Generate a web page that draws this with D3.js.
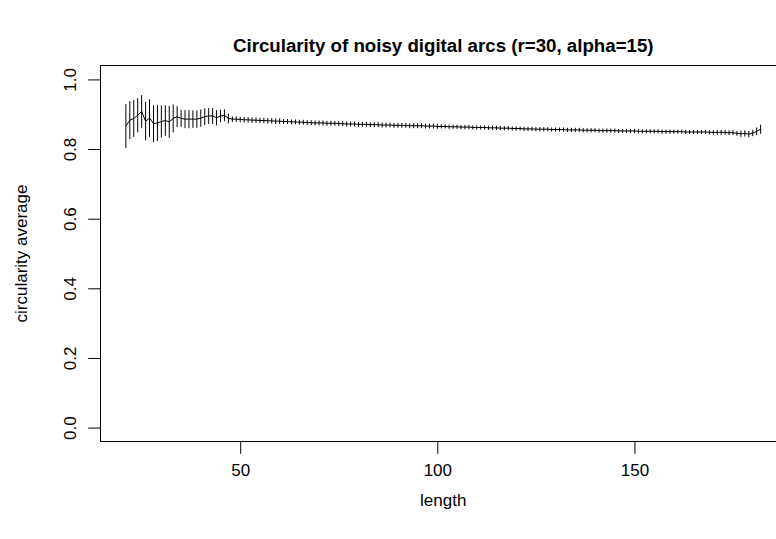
<!DOCTYPE html>
<html>
<head>
<meta charset="utf-8">
<script src="https://cdn.jsdelivr.net/npm/d3@7"></script>
<style>
  body { margin: 0; background: #fff; }
  svg { display: block; font-family: "Liberation Sans", Arial, Helvetica, sans-serif; }
  .axis text { font-size: 17px; fill: #000; }
  .axis line { stroke: #000; }
</style>
</head>
<body>
<svg id="chart"></svg>
<script>
// arc length of the noisy digital arc
const lengths = [
  21, 22, 23, 24, 25, 26, 27, 28, 29, 30,
  31, 32, 33, 34, 35, 36, 37, 38, 39, 40,
  41, 42, 43, 44, 45, 46, 47, 48, 49, 50,
  51, 52, 53, 54, 55, 56, 57, 58, 59, 60,
  61, 62, 63, 64, 65, 66, 67, 68, 69, 70,
  71, 72, 73, 74, 75, 76, 77, 78, 79, 80,
  81, 82, 83, 84, 85, 86, 87, 88, 89, 90,
  91, 92, 93, 94, 95, 96, 97, 98, 99, 100,
  101, 102, 103, 104, 105, 106, 107, 108, 109, 110,
  111, 112, 113, 114, 115, 116, 117, 118, 119, 120,
  121, 122, 123, 124, 125, 126, 127, 128, 129, 130,
  131, 132, 133, 134, 135, 136, 137, 138, 139, 140,
  141, 142, 143, 144, 145, 146, 147, 148, 149, 150,
  151, 152, 153, 154, 155, 156, 157, 158, 159, 160,
  161, 162, 163, 164, 165, 166, 167, 168, 169, 170,
  171, 172, 173, 174, 175, 176, 177, 178, 179, 180,
  181, 182
];

// circularity average per length
const circMean = [
  .866, .883, .888, .897, .908, .880, .889, .873, .875, .879,
  .882, .878, .888, .893, .888, .886, .886, .886, .886, .889,
  .893, .895, .895, .890, .895, .897, .888, .886, .886, .885,
  .884, .884, .883, .883, .882, .882, .881, .881, .880, .880,
  .879, .879, .878, .878, .877, .877, .876, .876, .875, .875,
  .875, .874, .874, .874, .873, .873, .872, .872, .872, .871,
  .871, .871, .870, .870, .870, .869, .869, .869, .868, .868,
  .868, .868, .867, .867, .867, .867, .866, .866, .866, .865,
  .865, .865, .864, .864, .864, .863, .863, .863, .862, .862,
  .862, .862, .861, .861, .861, .860, .860, .860, .859, .859,
  .859, .858, .858, .858, .857, .857, .857, .857, .856, .856,
  .856, .856, .855, .855, .855, .855, .854, .854, .854, .854,
  .853, .853, .853, .853, .853, .852, .852, .852, .852, .852,
  .851, .851, .851, .851, .851, .851, .850, .850, .850, .850,
  .850, .850, .849, .849, .849, .849, .849, .849, .848, .848,
  .848, .848, .848, .847, .847, .845, .844, .845, .843, .846,
  .851, .857
];

// half height of the error bar per length
const circErr = [
  .063, .055, .053, .049, .047, .055, .054, .053, .052, .046,
  .044, .046, .040, .030, .024, .026, .026, .025, .025, .025,
  .024, .023, .023, .022, .018, .017, .014, .008, .008, .008,
  .008, .008, .008, .008, .008, .008, .008, .008, .008, .008,
  .007, .007, .007, .007, .007, .007, .007, .007, .007, .007,
  .007, .007, .007, .007, .007, .007, .007, .007, .007, .007,
  .007, .007, .007, .007, .007, .007, .007, .007, .007, .007,
  .007, .007, .007, .007, .007, .007, .007, .007, .007, .007,
  .006, .006, .006, .006, .006, .006, .006, .006, .006, .006,
  .006, .006, .006, .006, .006, .006, .006, .006, .006, .006,
  .006, .006, .006, .006, .006, .006, .006, .006, .006, .006,
  .006, .006, .006, .006, .006, .006, .006, .006, .006, .006,
  .006, .006, .006, .006, .006, .006, .006, .006, .006, .006,
  .006, .006, .006, .006, .006, .006, .006, .006, .006, .006,
  .006, .006, .006, .006, .006, .006, .006, .006, .006, .006,
  .007, .007, .007, .007, .007, .007, .009, .009, .009, .009,
  .011, .013
];

const xTicks = [50, 100, 150];
const yTicks = [0, 0.2, 0.4, 0.6, 0.8, 1.0];

const width = 776, height = 539;
// plot region (R default margins), right side runs past the picture
const plot = {left: 100.5, right: 786, top: 65.5, bottom: 441.5};
const lineH = 24.6;

const data = lengths.map((l, i) => ({len: l, mean: circMean[i], err: circErr[i]}));

// R style 4% padding around the data range
const xPad = (d3.max(lengths) - d3.min(lengths)) * 0.04;
const xScale = d3.scaleLinear()
  .domain([d3.min(lengths) - xPad, d3.max(lengths) + xPad])
  .range([plot.left, plot.right]);

const yScale = d3.scaleLinear()
  .domain([-0.04, 1.04])
  .range([plot.bottom, plot.top]);

const svg = d3.select('#chart')
  .attr('width', width)
  .attr('height', height);

// x axis
svg.append('g')
  .attr('class', 'axis x-axis')
  .attr('transform', `translate(0,${plot.bottom})`)
  .call(d3.axisBottom(xScale).tickValues(xTicks).tickSize(12.3).tickPadding(10).tickFormat(d3.format('d')))
  .call(g => g.select('.domain').remove());

// y axis, labels turned like R's las=0
const yAxisG = svg.append('g')
  .attr('class', 'axis y-axis')
  .attr('transform', `translate(${plot.left},0)`)
  .call(d3.axisLeft(yScale).tickValues(yTicks).tickSize(12.3).tickFormat(d3.format('.1f')))
  .call(g => g.select('.domain').remove());

yAxisG.selectAll('text')
  .attr('x', null)
  .attr('dy', null)
  .attr('text-anchor', 'middle')
  .attr('transform', `translate(${-lineH},0) rotate(-90)`);

svg.selectAll('.axis text').attr('font-family', null);

// error bars
svg.append('g')
  .selectAll('line')
  .data(data)
  .join('line')
    .attr('x1', d => xScale(d.len))
    .attr('x2', d => xScale(d.len))
    .attr('y1', d => yScale(d.mean - d.err))
    .attr('y2', d => yScale(d.mean + d.err))
    .attr('stroke', '#000')
    .attr('stroke-width', 1);

// mean line
svg.append('path')
  .datum(data)
  .attr('fill', 'none')
  .attr('stroke', '#000')
  .attr('stroke-width', 1)
  .attr('d', d3.line().x(d => xScale(d.len)).y(d => yScale(d.mean)));

// plot box
svg.append('rect')
  .attr('x', plot.left)
  .attr('y', plot.top)
  .attr('width', plot.right - plot.left)
  .attr('height', plot.bottom - plot.top)
  .attr('fill', 'none')
  .attr('stroke', '#000')
  .attr('stroke-width', 1);

// titles
svg.append('text')
  .attr('x', (plot.left + plot.right) / 2)
  .attr('y', 52)
  .attr('text-anchor', 'middle')
  .attr('font-size', 18.7)
  .attr('font-weight', 'bold')
  .text('Circularity of noisy digital arcs (r=30, alpha=15)');

svg.append('text')
  .attr('x', (plot.left + plot.right) / 2)
  .attr('y', 506)
  .attr('text-anchor', 'middle')
  .attr('font-size', 17)
  .text('length');

svg.append('text')
  .attr('transform', `translate(${plot.left - 3 * lineH},${(plot.top + plot.bottom) / 2}) rotate(-90)`)
  .attr('text-anchor', 'middle')
  .attr('font-size', 17)
  .text('circularity average');
</script>
</body>
</html>
